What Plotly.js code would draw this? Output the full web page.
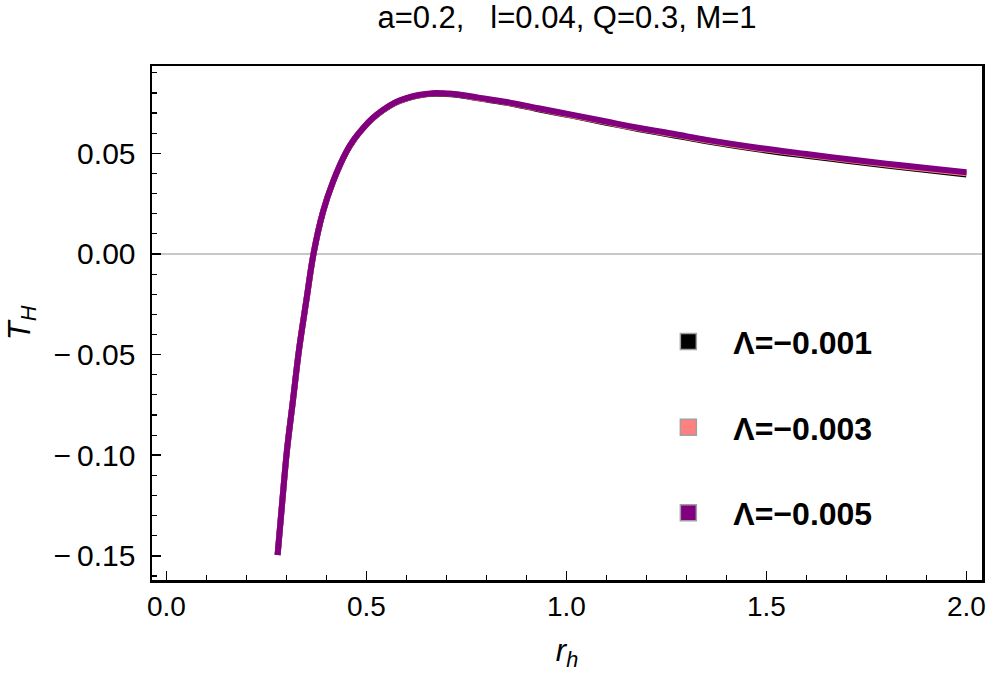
<!DOCTYPE html>
<html>
<head>
<meta charset="utf-8">
<script src="https://cdn.plot.ly/plotly-3.0.1.min.js"></script>
<style>
  body { margin: 0; background: #fff; }
  #plot { width: 996px; height: 687px; }
</style>
</head>
<body>
<div id="plot"></div>
<script>
// horizon radius values
var rh = [0.278, 0.290, 0.3015, 0.3165, 0.3315, 0.350, 0.368, 0.3915, 0.4165, 0.45,
          0.47, 0.4915, 0.515, 0.5415, 0.57, 0.60, 0.63, 0.6665, 0.695, 0.725,
          0.78, 0.851, 0.93, 1.016, 1.10, 1.183, 1.27, 1.351, 1.483, 1.6,
          1.7, 1.8, 1.9, 2.0];

// T_H for the three values of Lambda
var tLam001 = [-0.1496, -0.1223, -0.0974, -0.0726, -0.0477, -0.0229, 0.0003, 0.0209, 0.0358, 0.0507,
               0.0570, 0.0624, 0.0672, 0.0714, 0.0749, 0.0772, 0.0787, 0.0796, 0.0795, 0.0791,
               0.0773, 0.0751, 0.0719, 0.0686, 0.0652, 0.0620, 0.0589, 0.0560, 0.0519, 0.0488,
               0.0463, 0.0439, 0.0417, 0.0395];
var tLam003 = [-0.1496, -0.1223, -0.0974, -0.0726, -0.0477, -0.0229, 0.0003, 0.0210, 0.0359, 0.0508,
               0.0571, 0.0625, 0.0673, 0.0715, 0.0750, 0.0773, 0.0788, 0.0798, 0.0797, 0.0793,
               0.0775, 0.0753, 0.0722, 0.0688, 0.0655, 0.0623, 0.0593, 0.0564, 0.0523, 0.0493,
               0.0468, 0.0444, 0.0422, 0.0401];
var tLam005 = [-0.1496, -0.1223, -0.0974, -0.0726, -0.0477, -0.0229, 0.0003, 0.0210, 0.0359, 0.0508,
               0.0572, 0.0625, 0.0674, 0.0716, 0.0751, 0.0774, 0.0790, 0.0799, 0.0798, 0.0794,
               0.0777, 0.0755, 0.0724, 0.0691, 0.0658, 0.0626, 0.0596, 0.0567, 0.0527, 0.0497,
               0.0472, 0.0449, 0.0427, 0.0406];

var seriesNames = ["Λ=−0.001", "Λ=−0.003", "Λ=−0.005"];
var seriesColors = ["#000000", "#ff8080", "#800080"];
var seriesY = [tLam001, tLam003, tLam005];

var yTickVals = [-0.15, -0.10, -0.05, 0.00, 0.05];
var yTickText = ["−\u20090.15", "−\u20090.10", "−\u20090.05", "0.00", "0.05"];
var xTickVals = [0.0, 0.5, 1.0, 1.5, 2.0];
var xTickText = ["0.0", "0.5", "1.0", "1.5", "2.0"];

var xRange = [-0.036, 2.039];
var yRange = [-0.162, 0.0934];

var data = [];
// curves
for (var i = 0; i < 3; i++) {
  data.push({
    x: rh,
    y: seriesY[i],
    mode: "lines",
    type: "scatter",
    line: {color: seriesColors[i], width: 6, shape: "spline", smoothing: 1},
    showlegend: false,
    hoverinfo: "skip"
  });
}
// legend keys (square swatches)
for (var i = 0; i < 3; i++) {
  data.push({
    x: [null],
    y: [null],
    mode: "markers",
    type: "scatter",
    name: seriesNames[i],
    legendgroup: "g" + i,
    marker: {symbol: "square", size: 16, color: seriesColors[i],
             line: {color: "#a0a0a0", width: 1.5}}
  });
}

var font = "Liberation Sans, Arial, sans-serif";

var layout = {
  width: 996,
  height: 687,
  paper_bgcolor: "#fff",
  plot_bgcolor: "#fff",
  margin: {l: 152, r: 14, t: 66, b: 107},
  font: {family: font, color: "#000"},
  title: {
    text: "a=0.2,\u00a0\u00a0\u00a0l=0.04, Q=0.3, M=1",
    font: {size: 31, family: font},
    x: 0.5, xref: "paper", xanchor: "center",
    y: 0.975, yref: "container", yanchor: "middle"
  },
  xaxis: {
    range: xRange,
    showgrid: false,
    zeroline: false,
    showline: true, linecolor: "#000", linewidth: 2.5, mirror: true,
    ticks: "inside", ticklen: 9, tickwidth: 1.5, tickcolor: "#000",
    tickvals: xTickVals, ticktext: xTickText,
    tickfont: {size: 28},
    minor: {dtick: 0.1, ticks: "inside", ticklen: 5, tickwidth: 1.2, tickcolor: "#000"},
    title: {text: "<i>r</i><sub><i>h</i></sub>", font: {size: 31}, standoff: 18}
  },
  yaxis: {
    range: yRange,
    showgrid: false,
    zeroline: true, zerolinecolor: "#c8c8c8", zerolinewidth: 1.2,
    showline: true, linecolor: "#000", linewidth: 2.5, mirror: true,
    ticks: "inside", ticklen: 9, tickwidth: 1.5, tickcolor: "#000",
    tickvals: yTickVals, ticktext: yTickText,
    tickfont: {size: 30},
    ticklabelstandoff: 8,
    minor: {dtick: 0.01, ticks: "inside", ticklen: 5, tickwidth: 1.2, tickcolor: "#000"},
    title: {text: "<i>T</i><sub><i>H</i></sub>", font: {size: 31}, standoff: 14}
  },
  // mirrored gray ticks on top and right
  xaxis2: {
    overlaying: "x", side: "top", range: xRange,
    showgrid: false, zeroline: false, showticklabels: false,
    ticks: "inside", ticklen: 7, tickwidth: 1, tickcolor: "#b0b0b0",
    dtick: 0.1, tick0: 0
  },
  yaxis2: {
    overlaying: "y", side: "right", range: yRange,
    showgrid: false, zeroline: false, showticklabels: false,
    ticks: "inside", ticklen: 7, tickwidth: 1, tickcolor: "#b0b0b0",
    dtick: 0.01, tick0: 0
  },
  showlegend: true,
  legend: {
    x: 0.592, y: 0.517, xanchor: "left", yanchor: "top",
    bgcolor: "rgba(0,0,0,0)",
    font: {size: 32, family: font, weight: "bold"},
    itemwidth: 80,
    tracegroupgap: 41
  }
};

Plotly.newPlot("plot", data, layout, {displayModeBar: false, staticPlot: true});
</script>
</body>
</html>
